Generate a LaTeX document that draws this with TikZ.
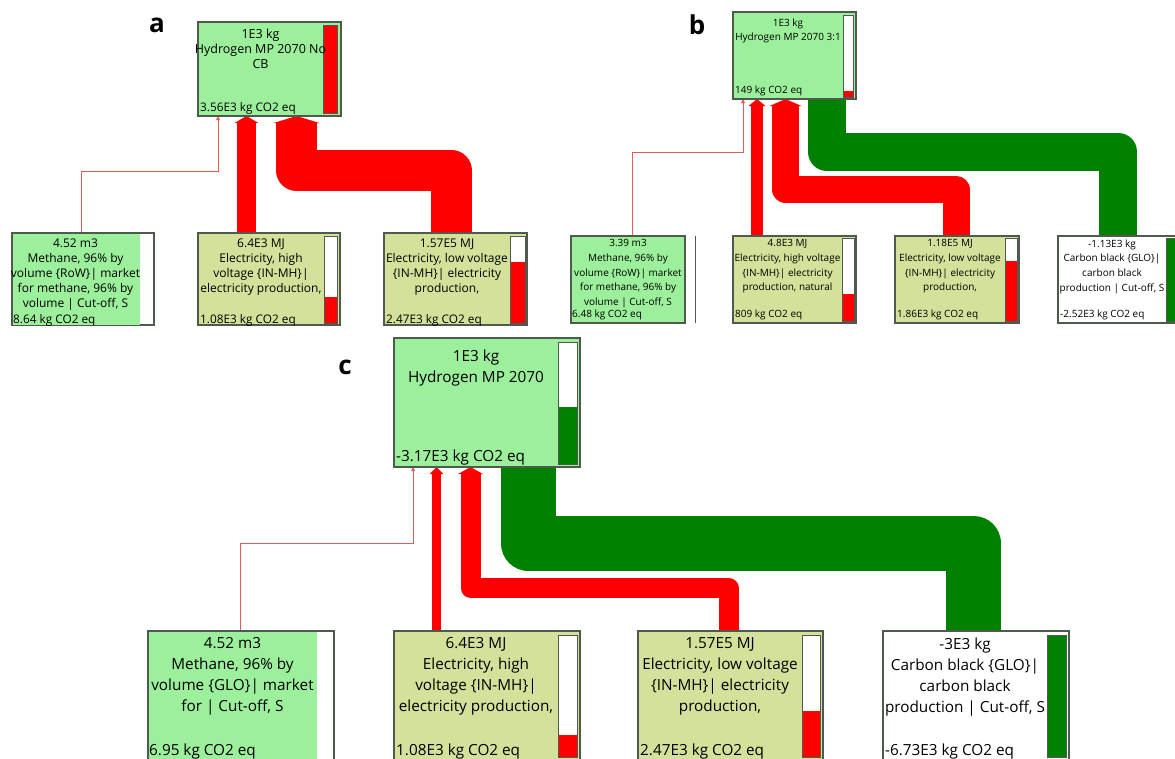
\documentclass[tikz,border=0pt]{standalone}
\usepackage{fontspec}
\setmainfont{Open Sans}
\usetikzlibrary{arrows.meta}
\pgfdeclarelayer{bg}
\pgfsetlayers{bg,main}
\definecolor{lgreen}{HTML}{9CF09C}
\definecolor{olive}{HTML}{D3E19A}
\definecolor{dgreen}{HTML}{008000}
\definecolor{boxline}{HTML}{4F5A4F}
\definecolor{thinred}{HTML}{E85A5A}
\begin{document}
\begin{tikzpicture}[x=1pt,y=-1pt,
  pbox/.style={draw=boxline, line width=1.1pt, anchor=north west, inner sep=0pt, outer sep=0pt},
  gpart/.style={fill=lgreen, anchor=north west, inner sep=0pt, outer sep=0pt},
  barbox/.style={draw=boxline, fill=white, line width=1pt, anchor=north west, inner sep=0pt, outer sep=0pt},
  barfill/.style={anchor=north west, inner sep=0pt, outer sep=0pt},
  txttop/.style={anchor=north, align=center, inner sep=0pt, font=\fontsize{12.5}{15.2}\selectfont},
  txta/.style={anchor=north, align=center, inner sep=0pt, font=\fontsize{12}{15}\selectfont},
  bota/.style={anchor=base west, inner sep=0pt, font=\fontsize{11.8}{15}\selectfont},
  txtb/.style={anchor=north, align=center, inner sep=0pt, font=\fontsize{10}{14.6}\selectfont},
  botb/.style={anchor=base west, inner sep=0pt, font=\fontsize{10}{14.6}\selectfont},
  txtc/.style={anchor=north, align=center, inner sep=0pt, font=\fontsize{15.3}{21}\selectfont},
  botc/.style={anchor=base west, inner sep=0pt, font=\fontsize{15.3}{21}\selectfont},
  lbl/.style={inner sep=0pt, font=\bfseries\fontsize{26}{26}\selectfont},
  flow/.style={line join=round, line cap=butt},
  redflow/.style={flow, draw=red, -{Triangle[length=7pt, width=5pt 1, line width=0pt]}},
  greenflow/.style={flow, draw=dgreen},
  thinflow/.style={draw=thinred, line width=1pt, -{Triangle[length=4pt, width=4pt, line width=0pt]}}
]
\useasboundingbox (0,0) rectangle (1175,758);
\clip (0,0) rectangle (1175,758);
\begin{pgfonlayer}{bg}
\fill[white] (0,0) rectangle (1175,758);
\end{pgfonlayer}

% ---------------- panel a ----------------
\node[lbl] (lbl-a) at (157,25) {a};
\node[pbox, fill=lgreen, minimum width=143pt, minimum height=94pt] (ta) at (198,22) {};
\node[barbox, fill=red, minimum width=14pt, minimum height=88pt] (ta-bar) at (323,25) {};
\node[txttop] (ta-t) at (260.5,28.4) {1E3 kg\\Hydrogen MP 2070 No\\CB};
\node[bota] (ta-b) at (200,111) {3.56E3 kg CO2 eq};

\node[pbox, fill=white, minimum width=142pt, minimum height=92pt] (ma) at (12,233) {};
\node[gpart, minimum width=127pt, minimum height=91pt] (ma-g) at (12.5,233.5) {};
\node[txta] (ma-t) at (75.5,238.6) {4.52 m3\\Methane, 96\% by\\volume \{RoW\}| market\\for methane, 96\% by\\volume | Cut-off, S};
\node[bota] (ma-b) at (13,323) {8.64 kg CO2 eq};

\node[pbox, fill=olive, minimum width=142pt, minimum height=92pt] (ha) at (198,233) {};
\node[barbox, minimum width=13pt, minimum height=87pt] (ha-bar) at (324,236) {};
\node[barfill, fill=red, minimum width=12pt, minimum height=25.5pt] (ha-f) at (324.5,297) {};
\node[txta] (ha-t) at (261,238.6) {6.4E3 MJ\\Electricity, high\\voltage \{IN-MH\}|\\electricity production,};
\node[bota] (ha-b) at (200,323) {1.08E3 kg CO2 eq};

\node[pbox, fill=olive, minimum width=143pt, minimum height=92pt] (la) at (384,233) {};
\node[barbox, minimum width=15pt, minimum height=87pt] (la-bar) at (510,236) {};
\node[barfill, fill=red, minimum width=14pt, minimum height=60.5pt] (la-f) at (510.5,262) {};
\node[txta] (la-t) at (447,238.6) {1.57E5 MJ\\Electricity, low voltage\\\{IN-MH\}| electricity\\production,};
\node[bota] (la-b) at (386,323) {2.47E3 kg CO2 eq};

% ---------------- panel b ----------------
\node[lbl] (lbl-b) at (697,25) {b};
\node[pbox, fill=lgreen, minimum width=123pt, minimum height=87pt] (tb) at (733,12) {};
\node[barbox, minimum width=10pt, minimum height=82pt] (tb-bar) at (843,15) {};
\node[barfill, fill=red, minimum width=9pt, minimum height=5.5pt] (tb-f) at (843.5,91) {};
\node[txtb] (tb-t) at (788,18.4) {1E3 kg\\Hydrogen MP 2070 3:1};
\node[botb] (tb-b) at (735,93.6) {149 kg CO2 eq};

\node[pbox, fill=lgreen, minimum width=114pt, minimum height=87pt] (mb) at (571,236) {};
\draw[draw=boxline, line width=1pt] (695,236) -- (695,323);
\node[txtb] (mb-t) at (628,239.4) {3.39 m3\\Methane, 96\% by\\volume \{RoW\}| market\\for methane, 96\% by\\volume | Cut-off, S};
\node[botb] (mb-b) at (572,317.6) {6.48 kg CO2 eq};

\node[pbox, fill=olive, minimum width=123pt, minimum height=87pt] (hb) at (733,236) {};
\node[barbox, minimum width=12pt, minimum height=83pt] (hb-bar) at (842,238) {};
\node[barfill, fill=red, minimum width=11pt, minimum height=26.5pt] (hb-f) at (842.5,294) {};
\node[txtb] (hb-t) at (787.5,239.4) {4.8E3 MJ\\Electricity, high voltage\\\{IN-MH\}| electricity\\production, natural};
\node[botb] (hb-b) at (735,317.6) {809 kg CO2 eq};

\node[pbox, fill=olive, minimum width=124pt, minimum height=87pt] (lb) at (895,236) {};
\node[barbox, minimum width=12pt, minimum height=83pt] (lb-bar) at (1005,238) {};
\node[barfill, fill=red, minimum width=11pt, minimum height=59.5pt] (lb-f) at (1005.5,261) {};
\node[txtb] (lb-t) at (950,239.4) {1.18E5 MJ\\Electricity, low voltage\\\{IN-MH\}| electricity\\production,};
\node[botb] (lb-b) at (897,317.6) {1.86E3 kg CO2 eq};

\node[pbox, fill=white, minimum width=130pt, minimum height=87pt] (cb) at (1058,236) {};
\node[barbox, fill=dgreen, minimum width=12pt, minimum height=83pt] (cb-bar) at (1166,238) {};
\node[txtb] (cb-t) at (1112,239.4) {-1.13E3 kg\\Carbon black \{GLO\}|\\carbon black\\production | Cut-off, S};
\node[botb] (cb-b) at (1060,317.6) {-2.52E3 kg CO2 eq};

% ---------------- panel c ----------------
\node[lbl] (lbl-c) at (345,367) {c};
\node[pbox, fill=lgreen, minimum width=186pt, minimum height=129pt] (tc) at (394,338) {};
\node[barbox, minimum width=19pt, minimum height=122pt] (tc-bar) at (558,342) {};
\node[barfill, fill=dgreen, minimum width=18pt, minimum height=56.5pt] (tc-f) at (558.5,407) {};
\node[txtc] (tc-t) at (476,349.5) {1E3 kg\\Hydrogen MP 2070};
\node[botc] (tc-b) at (396,461.5) {-3.17E3 kg CO2 eq};

\node[pbox, fill=white, minimum width=186pt, minimum height=131pt] (mc) at (148,631) {};
\node[gpart, minimum width=168.5pt, minimum height=130pt] (mc-g) at (148.5,631.5) {};
\node[txtc] (mc-t) at (232.5,637.5) {4.52 m3\\Methane, 96\% by\\volume \{GLO\}| market\\for | Cut-off, S};
\node[botc] (mc-b) at (149,755.5) {6.95 kg CO2 eq};

\node[pbox, fill=olive, minimum width=186pt, minimum height=131pt] (hc) at (394,631) {};
\node[barbox, minimum width=19pt, minimum height=122pt] (hc-bar) at (558,635) {};
\node[barfill, fill=red, minimum width=18pt, minimum height=21.5pt] (hc-f) at (558.5,735) {};
\node[txtc] (hc-t) at (476,637.5) {6.4E3 MJ\\Electricity, high\\voltage \{IN-MH\}|\\electricity production,};
\node[botc] (hc-b) at (396,755.5) {1.08E3 kg CO2 eq};

\node[pbox, fill=olive, minimum width=185pt, minimum height=131pt] (lc) at (638,631) {};
\node[barbox, minimum width=18pt, minimum height=122pt] (lc-bar) at (802,635) {};
\node[barfill, fill=red, minimum width=17pt, minimum height=45.5pt] (lc-f) at (802.5,711) {};
\node[txtc] (lc-t) at (720,637.5) {1.57E5 MJ\\Electricity, low voltage\\\{IN-MH\}| electricity\\production,};
\node[botc] (lc-b) at (640,755.5) {2.47E3 kg CO2 eq};

\node[pbox, fill=white, minimum width=186pt, minimum height=131pt] (cc) at (883,631) {};
\node[barbox, fill=dgreen, minimum width=19pt, minimum height=122pt] (cc-bar) at (1047,635) {};
\node[txtc] (cc-t) at (965,637.5) {-3E3 kg\\Carbon black \{GLO\}|\\carbon black\\production | Cut-off, S};
\node[botc] (cc-b) at (885,755.5) {-6.73E3 kg CO2 eq};

% ---------------- connectors ----------------
\begin{pgfonlayer}{bg}
% a
\draw[thinflow] ([xshift=69pt]ma.north west) -- ++(0,-62) -| ([xshift=20pt]ta.south west);
\draw[redflow, line width=19pt] ([xshift=48.5pt]ha.north west) -- ([xshift=48.5pt]ta.south west);
\draw[redflow, line width=41pt] ([xshift=67.5pt]la.north west) -- ++(0,-62.5) -| ([xshift=98.5pt]ta.south west);
% b
\draw[thinflow] ([xshift=61pt]mb.north west) -- ++(0,-84) -| ([xshift=10pt]tb.south west);
\draw[redflow, line width=12pt] ([xshift=24pt]hb.north west) -- ([xshift=24pt]tb.south west);
\draw[redflow, line width=27pt] ([xshift=61pt]lb.north west) -- ++(0,-46.5) -| ([xshift=52.5pt]tb.south west);
\draw[greenflow, line width=38pt] ([xshift=60pt]cb.north west) -- ++(0,-84.5) -| ([xshift=93.5pt]tb.south west);
% c
\draw[thinflow] ([xshift=92pt]mc.north west) -- ++(0,-88) -| ([xshift=19pt]tc.south west);
\draw[redflow, line width=9pt] ([xshift=42.5pt]hc.north west) -- ([xshift=42.5pt]tc.south west);
\draw[redflow, line width=20pt] ([xshift=90.5pt]lc.north west) -- ++(0,-43) -| ([xshift=76.5pt]tc.south west);
\draw[greenflow, line width=55pt] ([xshift=90.5pt]cc.north west) -- ++(0,-88) -| ([xshift=134pt]tc.south west);
\end{pgfonlayer}
\end{tikzpicture}
\end{document}
